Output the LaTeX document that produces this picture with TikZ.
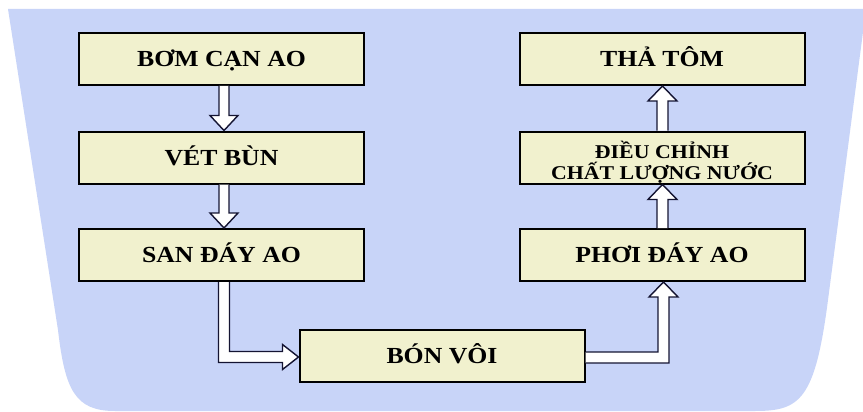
\documentclass[tikz,border=0pt]{standalone}
\usepackage{fontspec}
\newfontfamily\boxfont[FakeStretch=1.12]{Liberation Serif}
\usetikzlibrary{calc}
\definecolor{bgblue}{RGB}{200,212,248}
\definecolor{boxfill}{RGB}{241,241,206}
\definecolor{arrowc}{RGB}{20,20,50}
\tikzset{
  stepbox/.style={draw=black, line width=2pt, fill=boxfill, minimum width=285pt, minimum height=52pt,
    inner sep=0pt, font=\boxfont\bfseries\fontsize{23}{25}\selectfont, text height=15.2pt, text depth=0pt},
  twobox/.style={draw=black, line width=2pt, fill=boxfill, minimum width=285pt, minimum height=52pt,
    inner sep=0pt, align=center, font=\boxfont\bfseries\fontsize{19.5}{21}\selectfont,
    text height=44pt, text depth=0pt},
  blockarrow/.style={fill=white, draw=arrowc, line width=1.4pt, line join=miter}
}
\begin{document}
\begin{tikzpicture}[x=1pt,y=-1pt]
\useasboundingbox (0,0) rectangle (863,412);
\fill[white] (0,0) rectangle (863,412);
\fill[bgblue] (8,9) -- (866,9) -- (828,300) .. controls (815,400) and (800,411) .. (755,411)
  -- (115,411) .. controls (75,411) and (65,390) .. (58,330) -- cycle;
% boxes
\node[stepbox] (b1) at (221.5,59) {BƠM CẠN AO};
\node[stepbox] (b2) at (221.5,157.5) {VÉT BÙN};
\node[stepbox] (b3) at (221.5,255) {SAN ĐÁY AO};
\node[stepbox] (b4) at (442,356) {BÓN VÔI};
\node[stepbox] (b7) at (662,255) {PHƠI ĐÁY AO};
\node[twobox] (b6) at (662,157.5) {ĐIỀU CHỈNH\\CHẤT LƯỢNG NƯỚC};
\node[stepbox] (b5) at (662,59) {THẢ TÔM};
% down arrows
\foreach \a/\b in {b1/b2,b2/b3}{
  \coordinate (t) at ($(\a.south)+(2.5,0)$);
  \coordinate (h) at ($(\b.north)+(2.5,0)$);
  \filldraw[blockarrow] ($(t)+(-5,0)$) -- ($(h)+(-5,-15)$) -- ($(h)+(-14,-15)$) -- (h)
    -- ($(h)+(14,-15)$) -- ($(h)+(5,-15)$) -- ($(t)+(5,0)$);
}
% up arrows
\foreach \a/\b in {b6/b5,b7/b6}{
  \coordinate (t) at ($(\a.north)+(0.5,0)$);
  \coordinate (h) at ($(\b.south)+(0.5,0)$);
  \filldraw[blockarrow] ($(t)+(-5.5,0)$) -- ($(h)+(-5.5,15)$) -- ($(h)+(-14.5,15)$) -- (h)
    -- ($(h)+(14.5,15)$) -- ($(h)+(5.5,15)$) -- ($(t)+(5.5,0)$);
}
% elbow: b3 -> b4
\coordinate (t) at ($(b3.south)+(2.5,0)$);
\coordinate (h) at ($(b4.west)+(0,1)$);
\coordinate (c) at (t |- h);
\filldraw[blockarrow] ($(t)+(-5.5,0)$) -- ($(c)+(-5.5,5.5)$) -- ($(h)+(-16,5.5)$) -- ($(h)+(-16,12.5)$) -- (h)
  -- ($(h)+(-16,-12.5)$) -- ($(h)+(-16,-5.5)$) -- ($(c)+(5.5,-5.5)$) -- ($(t)+(5.5,0)$);
% elbow: b4 -> b7
\coordinate (t) at ($(b4.east)+(0,1.5)$);
\coordinate (h) at ($(b7.south)+(1.5,0)$);
\coordinate (c) at (h |- t);
\filldraw[blockarrow] ($(t)+(0,-5.5)$) -- ($(c)+(-5.5,-5.5)$) -- ($(h)+(-5.5,15)$) -- ($(h)+(-14.5,15)$) -- (h)
  -- ($(h)+(14.5,15)$) -- ($(h)+(5.5,15)$) -- ($(c)+(5.5,5.5)$) -- ($(t)+(0,5.5)$);
\end{tikzpicture}
\end{document}
